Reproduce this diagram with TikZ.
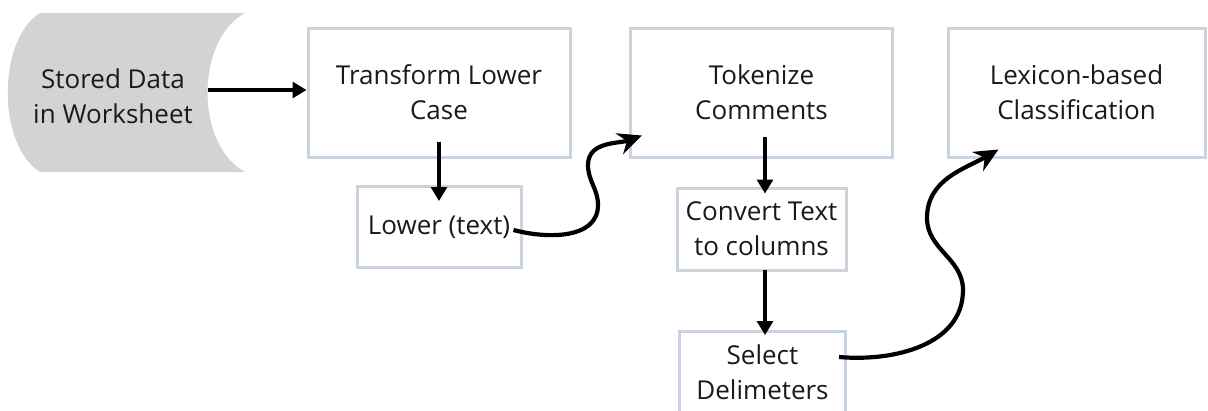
\documentclass[tikz,border=0pt]{standalone}
\usepackage{fontspec}
\setmainfont{Open Sans}
\usepackage{xcolor}
\usepackage{tikz}
\usetikzlibrary{arrows.meta,calc}
\definecolor{ink}{HTML}{1A1A1A}
\definecolor{frame}{HTML}{CBD3DE}
\definecolor{store}{HTML}{D3D3D3}
\tikzset{
  stepBox/.style={draw=frame, line width=3pt, fill=white, align=center, text=ink,
    font=\fontsize{26}{35}\selectfont},
  bigBox/.style={stepBox, minimum width=262pt, minimum height=129pt},
  smallBox/.style={stepBox, minimum width=166pt, minimum height=81pt},
  storeText/.style={align=center, text=ink, font=\fontsize{26}{35}\selectfont},
  arr/.style={-{Triangle[length=14pt,width=16pt]}, draw=black, line width=3.2pt},
  curvy/.style={-{Stealth[length=24pt,width=22pt,inset=8pt]}, draw=black, line width=4.2pt}
}

\begin{document}
\begin{tikzpicture}[x=1pt,y=1pt]
  \useasboundingbox (0,0) rectangle (1208,-410);

  % data store
  \fill[store] (40,-13) -- (245,-13)
    .. controls (195,-40) and (195,-145) .. (245,-172)
    -- (40,-172)
    .. controls (-3,-145) and (-3,-40) .. (40,-13) -- cycle;
  \node[storeText] (data) at (113,-96) {Stored Data\\in Worksheet};
  \coordinate (rim) at (208,-90);

  % top row
  \node[bigBox] (trans) at (439,-92.5) {Transform Lower\\Case};
  \node[bigBox] (tok) at (761.5,-92.5) {Tokenize\\Comments};
  \node[bigBox, minimum width=257pt] (lex) at (1076.5,-92.5) {Lexicon-based\\Classification};

  % sub steps
  \node[smallBox, minimum width=164pt] (lower) at (439,-227) {Lower (text)};
  \node[smallBox, minimum width=169pt, minimum height=82pt] (conv) at (761.5,-229) {Convert Text\\to columns};
  \node[smallBox] (sel) at (762.5,-372) {Select\\Delimeters};

  % straight arrows
  \draw[arr] (rim) -- (rim -| trans.west);
  \draw[arr] ([yshift=17pt]trans.south) -- ([yshift=-16pt]lower.north);
  \draw[arr] ([xshift=3.5pt,yshift=22pt]tok.south) -- ([xshift=3.5pt,yshift=-7pt]conv.north);
  \draw[arr] ([xshift=3.5pt,yshift=2pt]conv.south) -- ([xshift=2.5pt,yshift=-5pt]sel.north);

  % curved arrows
  \draw[curvy] ([xshift=-9pt,yshift=-3pt]lower.east) to[out=-15,in=-90] (598,-205)
    to[out=90,in=-90] (588,-165) to[out=90,in=200] ([shift={(13,23)}]tok.south west);
  \draw[curvy] ([xshift=-8pt,yshift=15pt]sel.east) to[out=-5,in=-90] (963,-290)
    to[out=90,in=-90] (927,-218) to[out=90,in=210] ([shift={(52,9)}]lex.south west);
\end{tikzpicture}
\end{document}
